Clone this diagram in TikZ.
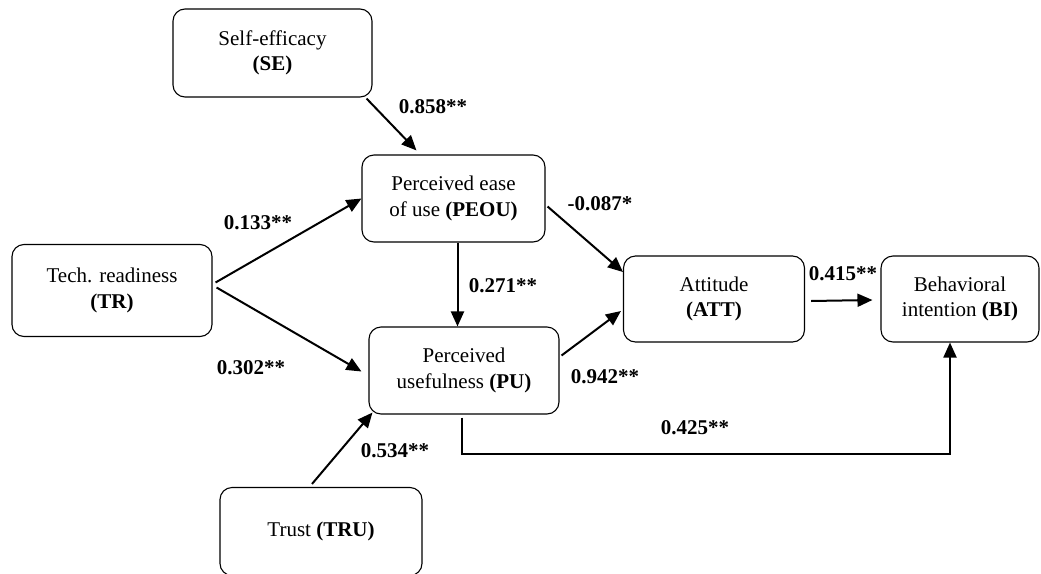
\documentclass[tikz,border=0pt]{standalone}
\usepackage{fontspec}
\setmainfont{Liberation Serif}
\usetikzlibrary{arrows.meta,calc}
\begin{document}
\begin{tikzpicture}[x=1pt,y=-1pt,
  box/.style={draw,line width=1.1pt,rounded corners=12pt,align=center,inner sep=0pt,
    font=\fontsize{21}{25.5}\selectfont},
  arr/.style={line width=2pt,-{Triangle[length=15pt,width=13pt]}},
  lab/.style={font=\fontsize{21}{25.5}\selectfont\bfseries,inner sep=0pt}]
\useasboundingbox (0,0) rectangle (1041,573);
% boxes
\node[box,minimum width=199pt,minimum height=88pt] (SE) at (272.5,53) {Self-efficacy\\\textbf{(SE)}};
\node[box,minimum width=183pt,minimum height=87pt] (PEOU) at (453.5,198.5) {Perceived ease\\of use \textbf{(PEOU)}};
\node[box,minimum width=200pt,minimum height=92pt] (TR) at (112,290.5) {Tech. readiness\\\textbf{(TR)}};
\node[box,minimum width=190pt,minimum height=87pt] (PU) at (464,370.5) {Perceived\\usefulness \textbf{(PU)}};
\node[box,minimum width=181pt,minimum height=86pt] (ATT) at (714,299) {Attitude\\\textbf{(ATT)}};
\node[box,minimum width=158pt,minimum height=86pt] (BI) at (960,299) {Behavioral\\intention \textbf{(BI)}};
\node[box,minimum width=202pt,minimum height=88pt] (TRU) at (321,531.5) {Trust \textbf{(TRU)}};
% connectors
\draw[arr] ($(SE.south east)+(-6,1)$) -- ($(PEOU.north west)+(55,-4)$);
\draw[arr] ($(TR.east)+(3,-8)$) -- (PEOU.west);
\draw[arr] ($(TR.east)+(4,-3)$) -- ($(PU.west)+(-7,1)$);
\coordinate (p1) at ($(PEOU.south)+(4,0)$);
\draw[arr] (p1) -- (p1 |- PU.north);
\draw[arr] ($(PEOU.east)+(2,8)$) -- ($(ATT.west)+(0,-27)$);
\draw[arr] ($(PU.east)+(2,-15)$) -- ($(ATT.west)+(-2,12)$);
\draw[arr] ($(ATT.east)+(6,2)$) -- ($(BI.west)+(-8,1)$);
\coordinate (q) at ($(PU.south)+(-2,3)$);
\coordinate (r) at ($(BI.south)+(-10,0)$);
\draw[arr] (q) -- ($(q)+(0,36)$) -| (r);
\draw[arr] ($(TRU.north)+(-9,-3)$) -- ($(PU.south west)+(4,-2)$);
% labels
\node[lab] (l1) at (433,107) {0.858**};
\node[lab] (l2) at (258,223) {0.133**};
\node[lab] (l3) at (251,368) {0.302**};
\node[lab] (l4) at (503,286) {0.271**};
\node[lab] (l5) at (600,204) {-0.087*};
\node[lab] (l6) at (605,377) {0.942**};
\node[lab] (l7) at (843,274) {0.415**};
\node[lab] (l8) at (695,428) {0.425**};
\node[lab] (l9) at (395,451) {0.534**};
\end{tikzpicture}
\end{document}
